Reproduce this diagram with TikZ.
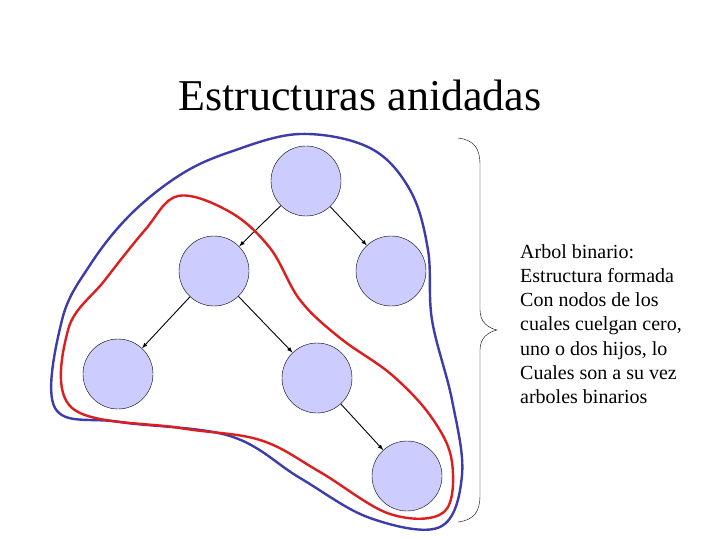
\documentclass[tikz,border=0pt]{standalone}
\usepackage{fontspec}
\setmainfont{Liberation Serif}
\begin{document}
\begin{tikzpicture}[x=1pt,y=-1pt,
  nd/.style={circle,draw=black,fill=blue!20,minimum size=70pt,inner sep=0pt},
  ar/.style={-latex,line width=0.9pt},
  blob/.style={line width=2.4pt,line join=round}]
\useasboundingbox (0,0) rectangle (720,540);
\node at (360,95) {\fontsize{44}{50}\selectfont Estructuras anidadas};
\node[nd] (r) at (306,181) {};
\node[nd] (a) at (214,271) {};
\node[nd] (b) at (391,271) {};
\node[nd] (c) at (118,374) {};
\node[nd] (d) at (317,378) {};
\node[nd] (e) at (407,476) {};
\draw[ar] (r) -- (a); \draw[ar] (r) -- (b);
\draw[ar] (a) -- (c); \draw[ar] (a) -- (d);
\draw[ar] (d) -- (e);
\draw[blob,draw={rgb,255:red,60;green,60;blue,170}] plot[smooth cycle,tension=0.6] coordinates{
 (300,134) (230,152) (180,175) (130,215) (90,265) (62,320) (55,408) (120,422) (230,436) (300,478) (370,518) (440,527) (462,475) (452,400) (432,320) (428,250) (410,190) (370,148)};
\draw[blob,draw={rgb,255:red,220;green,30;blue,30}] plot[smooth cycle,tension=0.6] coordinates{
 (178,196) (230,212) (270,248) (300,300) (340,338) (392,375) (432,418) (452,462) (444,512) (390,514) (320,472) (260,440) (180,428) (72,408) (68,330) (105,280) (145,230)};
\draw[thin] (458,138) .. controls (474,140) and (480,148) .. (480,165) -- (480,310)
  .. controls (480,322) and (488,328) .. (497,330)
  .. controls (488,332) and (480,338) .. (480,350) -- (480,495)
  .. controls (480,512) and (474,520) .. (458,522);
\node[anchor=west,align=left,inner sep=0pt,font=\fontsize{20}{24.2}\selectfont] (t) at (520,324) {Arbol binario:\\Estructura formada\\Con nodos de los\\cuales cuelgan cero,\\uno o dos hijos, lo\\Cuales son a su vez\\arboles binarios};
\end{tikzpicture}
\end{document}
